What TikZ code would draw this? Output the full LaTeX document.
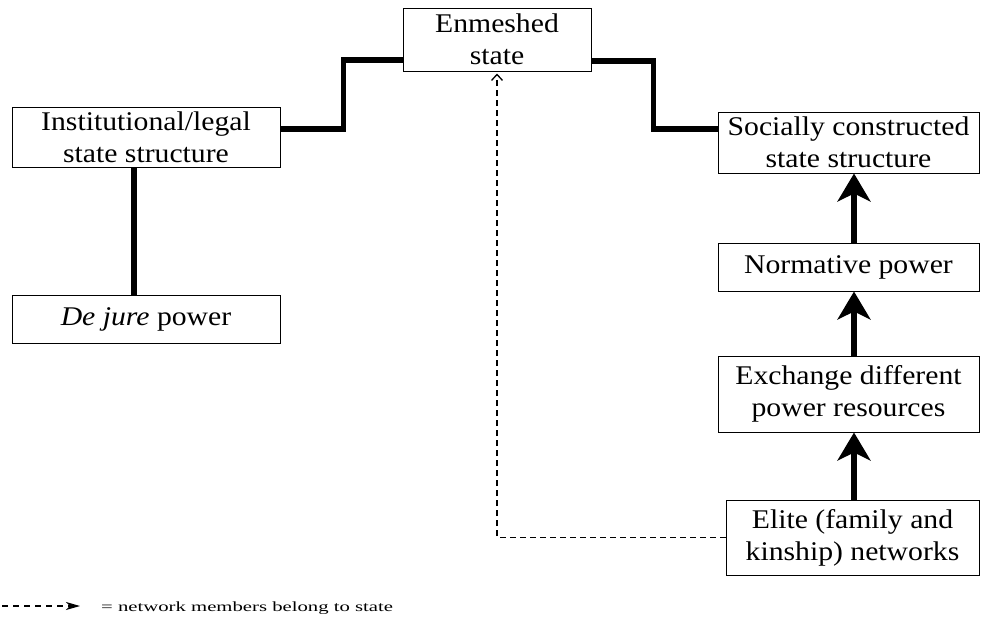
\documentclass[tikz,border=0pt]{standalone}
\usepackage{fontspec}
\setmainfont{Liberation Serif}[FakeStretch=1.1]
\newfontfamily\legfont{Liberation Serif}[FakeStretch=1.48]
\usetikzlibrary{arrows.meta}
\begin{document}
\begin{tikzpicture}[x=1pt,y=1pt,
  box/.style={draw, line width=1pt, inner sep=0pt, align=center,
    font=\fontsize{27}{32}\selectfont},
  conn/.style={line width=5.5pt},
  uparrow/.style={line width=5.5pt, -{Stealth[length=28pt,width=33pt,inset=8pt]}},
  member/.style={line width=1.2pt, dash pattern=on 6pt off 4pt,
    -{Straight Barb[length=6pt,width=11pt,line width=1.3pt]}},
  legarrow/.style={line width=1.2pt, dash pattern=on 6pt off 5pt,
    -{Stealth[length=14pt,width=8pt,inset=4pt]}}]
\useasboundingbox (0,0) rectangle (981,-616);

\node[box, minimum width=188, minimum height=63] (enm) at (497,-39.5) {Enmeshed\\state};
\node[box, minimum width=268, minimum height=60] (inst) at (146,-137) {Institutional/legal\\state structure};
\node[box, minimum width=268, minimum height=48] (dej) at (146,-319) {\textit{De jure} power};
\node[box, minimum width=261, minimum height=61] (soc) at (848.5,-142.5) {Socially constructed\\state structure};
\node[box, minimum width=261, minimum height=48] (norm) at (848.5,-267) {Normative power};
\node[box, minimum width=261, minimum height=76] (exch) at (848.5,-394) {Exchange different\\power resources};
\node[box, minimum width=253, minimum height=75] (elite) at (852.5,-537.5) {Elite (family and\\kinship) networks};

\draw[conn] ([yshift=8]inst.east) -- ++(63,0) |- ([yshift=-20.5]enm.west);
\draw[conn] ([yshift=-21.5]enm.east) -- ++(62,0) |- ([yshift=13.5]soc.west);
\draw[conn] ([xshift=-12]inst.south) -- ([xshift=-12]dej.north);

\draw[uparrow] ([xshift=5.5]norm.north) -- ([xshift=5.5]soc.south);
\draw[uparrow] ([xshift=5.5]exch.north) -- ([xshift=5.5]norm.south);
\draw[uparrow] ([xshift=5.5]exch.south |- elite.north) -- ([xshift=5.5]exch.south);

\draw[member, shorten >=2pt] (elite.west) -| (enm.south);

\coordinate (l1) at (2,-606);
\coordinate (l2) at (80,-606);
\draw[legarrow] (l1) -- (l2);
\node[anchor=base west, inner sep=0pt, font=\legfont\fontsize{14}{16}\selectfont] (leg) at (101,-611) {= network members belong to state};
\end{tikzpicture}
\end{document}
